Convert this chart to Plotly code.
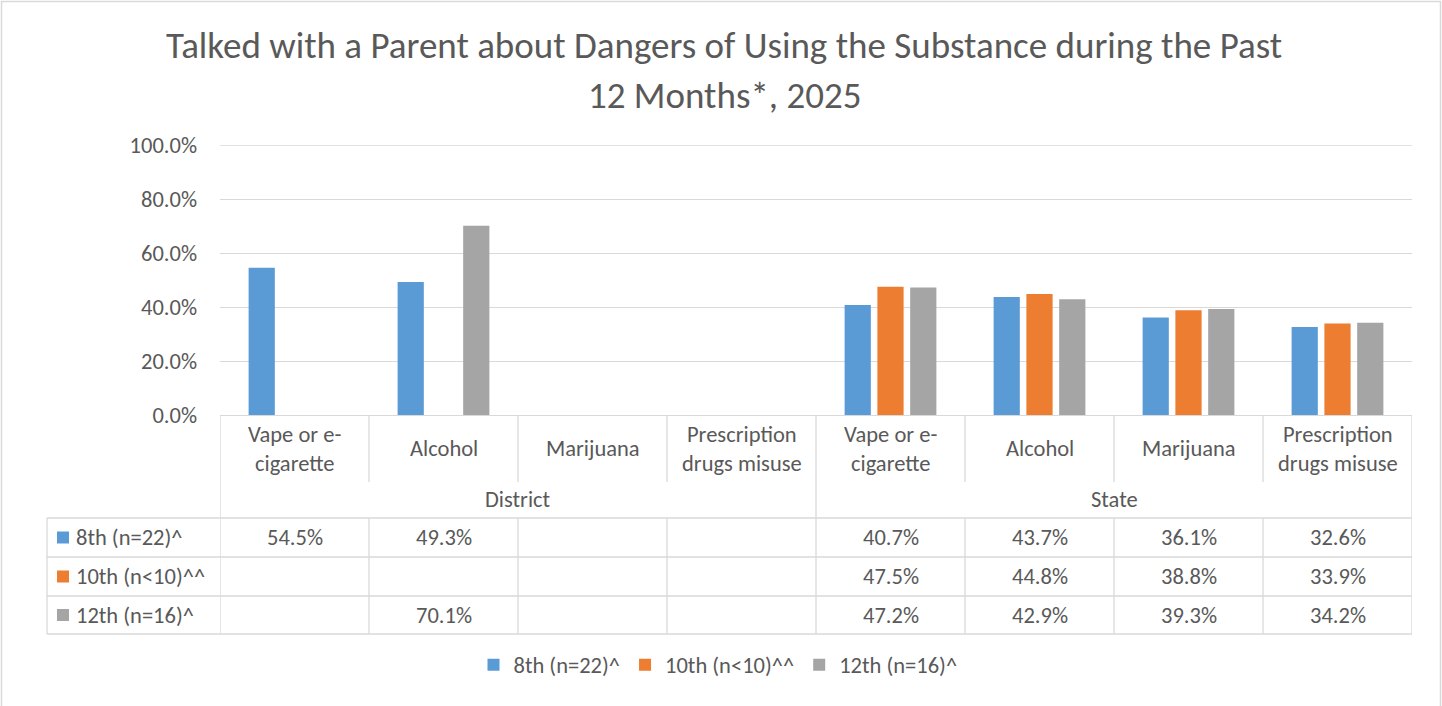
import plotly.graph_objects as go

# ---------------- data ----------------
categories = ["Vape or e-|cigarette", "Alcohol", "Marijuana", "Prescription|drugs misuse",
              "Vape or e-|cigarette", "Alcohol", "Marijuana", "Prescription|drugs misuse"]
groups = ["District", "State"]
series_names = ["8th (n=22)^", "10th (n<10)^^", "12th (n=16)^"]
grade8 = [54.5, 49.3, None, None, 40.7, 43.7, 36.1, 32.6]
grade10 = [None, None, None, None, 47.5, 44.8, 38.8, 33.9]
grade12 = [None, 70.1, None, None, 47.2, 42.9, 39.3, 34.2]
y_ticks = [0, 20, 40, 60, 80, 100]
title_lines = ["Talked with a Parent about Dangers of Using the Substance during the Past",
               "12 Months*, 2025"]

# ---------------- style ----------------
colors = ["#5B9BD5", "#ED7D31", "#A5A5A5"]
TXT = "#595959"
GRID = "#D9D9D9"
FONT = "Carlito, Lato, sans-serif"
FS = 22.5

L, R, T, B = 220, 1412, 145, 415
W, H = R - L, B - T


def px(x):
    return (x - L) / W


def py(y):
    return (B - y) / H


series = [grade8, grade10, grade12]
n = len(categories)
xs = list(range(n))

fig = go.Figure()
for name, vals, col in zip(series_names, series, colors):
    fig.add_trace(go.Bar(x=xs, y=vals, name=name, marker=dict(color=col, line=dict(width=0))))

shapes = []
ann = []

line_style = dict(color=GRID, width=1.3)
# top gridline (at the edge of the axis range)
shapes.append(dict(type="line", xref="paper", yref="y", x0=0, x1=1, y0=y_ticks[-1], y1=y_ticks[-1],
                   line=line_style, layer="below"))
# vertical lines of the table
for i in range(n + 1):
    xe = i - 0.5
    if i in (0, n // 2, n):
        shapes.append(dict(type="line", xref="x", yref="paper", x0=xe, x1=xe,
                           y0=py(415), y1=py(634), line=line_style))
    else:
        shapes.append(dict(type="line", xref="x", yref="paper", x0=xe, x1=xe,
                           y0=py(415), y1=py(482), line=line_style))
        shapes.append(dict(type="line", xref="x", yref="paper", x0=xe, x1=xe,
                           y0=py(518), y1=py(634), line=line_style))
# horizontal table lines
for yy in (518, 557, 596, 634):
    shapes.append(dict(type="line", xref="paper", yref="paper", x0=px(47), x1=px(1412),
                       y0=py(yy), y1=py(yy), line=line_style))
shapes.append(dict(type="line", xref="paper", yref="paper", x0=px(47), x1=px(47),
                   y0=py(518), y1=py(634), line=line_style))
# outer chart border
shapes.append(dict(type="rect", xref="paper", yref="paper", x0=px(1.5), x1=px(1440.5),
                   y0=py(1.5), y1=py(720), line=dict(color=GRID, width=1.5)))

# category labels
for i, c in enumerate(categories):
    parts = c.split("|")
    if len(parts) == 1:
        ys = [448]
    else:
        ys = [434, 463]
    for p, yy in zip(parts, ys):
        ann.append(dict(x=i, y=py(yy), xref="x", yref="paper", text=p, showarrow=False,
                        font=dict(size=FS, color=TXT, family=FONT), xanchor="center", yanchor="middle"))
# group labels
for g, gi in enumerate(groups):
    cx = (n // 2) * g + (n // 2 - 1) / 2
    ann.append(dict(x=cx, y=py(499), xref="x", yref="paper", text=gi, showarrow=False,
                    font=dict(size=FS, color=TXT, family=FONT), xanchor="center", yanchor="middle"))
# table rows
row_centers = [537.5, 576.5, 615]
for r, (name, vals, col) in enumerate(zip(series_names, series, colors)):
    yc = row_centers[r]
    shapes.append(dict(type="rect", xref="paper", yref="paper", x0=px(57), x1=px(69),
                       y0=py(yc - 6), y1=py(yc + 6), fillcolor=col, line=dict(width=0)))
    ann.append(dict(x=px(74), y=py(yc), xref="paper", yref="paper", text=name, showarrow=False,
                    font=dict(size=FS, color=TXT, family=FONT), xanchor="left", yanchor="middle"))
    for i, v in enumerate(vals):
        if v is not None:
            ann.append(dict(x=i, y=py(yc), xref="x", yref="paper", text=f"{v:.1f}%", showarrow=False,
                            font=dict(size=FS, color=TXT, family=FONT), xanchor="center", yanchor="middle"))
# title
for t, yy in zip(title_lines, (46, 95)):
    ann.append(dict(x=px(724), y=py(yy), xref="paper", yref="paper", text=t, showarrow=False,
                    font=dict(size=37, color=TXT, family=FONT), xanchor="center", yanchor="middle"))

fig.update_layout(
    width=1442, height=706,
    margin=dict(l=L, r=1442 - R, t=T, b=706 - B, pad=0),
    paper_bgcolor="white", plot_bgcolor="white",
    barmode="group", bargap=0.34, bargroupgap=0.2,
    font=dict(family=FONT, color=TXT, size=FS),
    showlegend=True,
    legend=dict(orientation="h", x=px(718), y=py(665), xanchor="center", yanchor="middle",
                font=dict(size=FS, color=TXT, family=FONT), itemwidth=30, traceorder="normal"),
    shapes=shapes, annotations=ann,
    xaxis=dict(range=[-0.5, n - 0.5], showticklabels=False, showgrid=False, zeroline=False,
               showline=True, linecolor=GRID, linewidth=1.3, ticks=""),
    yaxis=dict(range=[0, 100], tickvals=y_ticks, ticktext=[f"{v:.1f}%" for v in y_ticks],
               showgrid=True, gridcolor=GRID, gridwidth=1.3, zeroline=False,
               tickfont=dict(size=FS, color=TXT, family=FONT), ticklabelstandoff=22, ticks=""),
)

fig.write_html("out.html", config={"displayModeBar": False},
               post_script="document.body.style.margin='0';document.body.style.overflow='hidden';")
